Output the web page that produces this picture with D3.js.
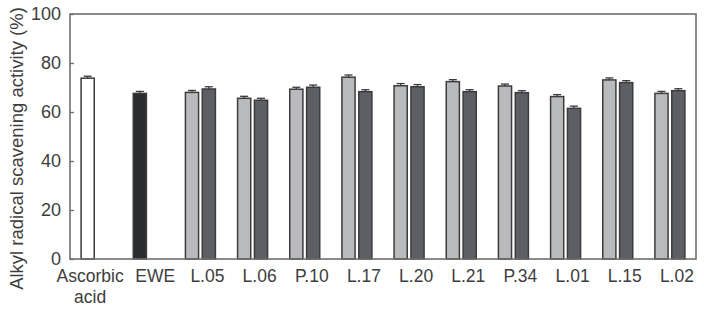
<!DOCTYPE html>
<html>
<head>
<meta charset="utf-8">
<script src="https://cdn.jsdelivr.net/npm/d3@7"></script>
<style>
  body { margin: 0; background: #fff; }
  svg { display: block; font-family: 'Liberation Sans', Arial, sans-serif; }
</style>
</head>
<body>
<div id="chart"></div>
<script>
/* global d3 */

// x categories, in drawing order
var categories = ['Ascorbic acid', 'EWE', 'L.05', 'L.06', 'P.10', 'L.17', 'L.20', 'L.21', 'P.34', 'L.01', 'L.15', 'L.02'];

// single controls
var controls = ['Ascorbic acid', 'EWE'];
var controlValues = [73.8, 67.6];
var controlErrors = [0.8, 0.8];

// strains, two bars each
var strains = ['L.05', 'L.06', 'P.10', 'L.17', 'L.20', 'L.21', 'P.34', 'L.01', 'L.15', 'L.02'];
var lightValues = [68.0, 65.6, 69.3, 74.2, 70.7, 72.4, 70.6, 66.3, 73.1, 67.6];
var lightErrors = [0.8, 0.8, 0.8, 0.9, 0.9, 0.8, 0.8, 0.8, 0.8, 0.8];
var darkValues = [69.4, 64.8, 70.1, 68.3, 70.3, 68.3, 67.9, 61.5, 72.0, 68.7];
var darkErrors = [0.9, 0.8, 0.9, 0.8, 0.9, 0.8, 0.8, 0.9, 0.8, 0.8];

var yTicks = [0, 20, 40, 60, 80, 100];
var yTitle = 'Alkyl radical scavening activity (%)';

var chart = {};

chart.WIDTH = 704;
chart.HEIGHT = 317;
chart.margin = { top: 14, right: 8, bottom: 58, left: 70 };

chart.draw = function () {
  'use strict';

  var m = chart.margin;
  var innerW = chart.WIDTH - m.left - m.right;
  var innerH = chart.HEIGHT - m.top - m.bottom;

  var svg = d3.select('#chart')
    .append('svg')
    .attr('width', chart.WIDTH)
    .attr('height', chart.HEIGHT);

  var g = svg.append('g')
    .attr('transform', 'translate(' + m.left + ',' + m.top + ')');

  var x = d3.scaleBand()
    .domain(categories)
    .range([0, innerW]);

  var bw = x.bandwidth();

  // two bars inside every slot; single bars use the first position
  var xs = d3.scaleBand()
    .domain(['light', 'dark'])
    .range([bw / 2 - 15, bw / 2 + 15])
    .paddingInner(0.22);

  var y = d3.scaleLinear()
    .domain([0, 100])
    .range([innerH, 0]);

  var bars = [];
  controls.forEach(function (c, i) {
    bars.push({ cat: c, pos: 'light', value: controlValues[i], err: controlErrors[i],
      fill: i === 0 ? '#ffffff' : '#2b2c30' });
  });
  strains.forEach(function (s, i) {
    bars.push({ cat: s, pos: 'light', value: lightValues[i], err: lightErrors[i], fill: '#b9babc' });
    bars.push({ cat: s, pos: 'dark', value: darkValues[i], err: darkErrors[i], fill: '#5e5f64' });
  });

  // error bars (drawn under the bars so only the top part shows)
  var eb = g.selectAll('.err')
    .data(bars)
    .enter()
    .append('g')
    .attr('class', 'err')
    .attr('stroke', '#3a3a3a')
    .attr('stroke-width', 1.3);

  eb.append('line')
    .attr('x1', function (d) { return x(d.cat) + xs(d.pos) + xs.bandwidth() / 2; })
    .attr('x2', function (d) { return x(d.cat) + xs(d.pos) + xs.bandwidth() / 2; })
    .attr('y1', function (d) { return y(d.value); })
    .attr('y2', function (d) { return y(d.value + d.err); });

  eb.append('line')
    .attr('x1', function (d) { return x(d.cat) + xs(d.pos) + xs.bandwidth() / 2 - 4; })
    .attr('x2', function (d) { return x(d.cat) + xs(d.pos) + xs.bandwidth() / 2 + 4; })
    .attr('y1', function (d) { return y(d.value + d.err); })
    .attr('y2', function (d) { return y(d.value + d.err); });

  g.selectAll('.bar')
    .data(bars)
    .enter()
    .append('rect')
    .attr('class', 'bar')
    .attr('x', function (d) { return x(d.cat) + xs(d.pos); })
    .attr('width', xs.bandwidth())
    .attr('y', function (d) { return y(d.value); })
    .attr('height', function (d) { return innerH - y(d.value); })
    .attr('fill', function (d) { return d.fill; })
    .attr('stroke', '#3c3c3e')
    .attr('stroke-width', 1.5);

  // frame
  g.append('rect')
    .attr('x', 0)
    .attr('y', 0)
    .attr('width', innerW)
    .attr('height', innerH)
    .attr('fill', 'none')
    .attr('stroke', '#6e6e6e')
    .attr('stroke-width', 1.6);

  // left axis, ticks pointing inward
  var yAxis = d3.axisLeft(y)
    .tickValues(yTicks)
    .tickSizeInner(-4)
    .tickSizeOuter(0)
    .tickPadding(9);

  var ya = g.append('g').call(yAxis);
  ya.select('.domain').remove();
  ya.selectAll('line').attr('stroke', '#6e6e6e').attr('stroke-width', 1.3);
  ya.selectAll('text')
    .attr('font-size', 18)
    .attr('font-family', null)
    .attr('fill', '#3d3d3d');

  // category labels, long first label split on two lines
  var labels = g.selectAll('.xlabel')
    .data(categories)
    .enter()
    .append('text')
    .attr('class', 'xlabel')
    .attr('text-anchor', 'middle')
    .attr('font-size', 17.5)
    .attr('fill', '#3d3d3d')
    .attr('transform', function (d, i) {
      var cx = x(d) + bw / 2 + (i === 0 ? -6 : 7);
      return 'translate(' + cx + ',' + (innerH + 23) + ')';
    });

  labels.selectAll('tspan')
    .data(function (d) { return d.split(' '); })
    .enter()
    .append('tspan')
    .attr('x', 0)
    .attr('dy', function (d, i) { return i === 0 ? 0 : 21; })
    .text(function (d) { return d; });

  svg.append('text')
    .attr('transform', 'translate(23,' + (m.top + innerH / 2 + 12) + ') rotate(-90)')
    .attr('text-anchor', 'middle')
    .attr('font-size', 18.5)
    .attr('fill', '#3d3d3d')
    .text(yTitle);
};

chart.draw();
</script>
</body>
</html>
